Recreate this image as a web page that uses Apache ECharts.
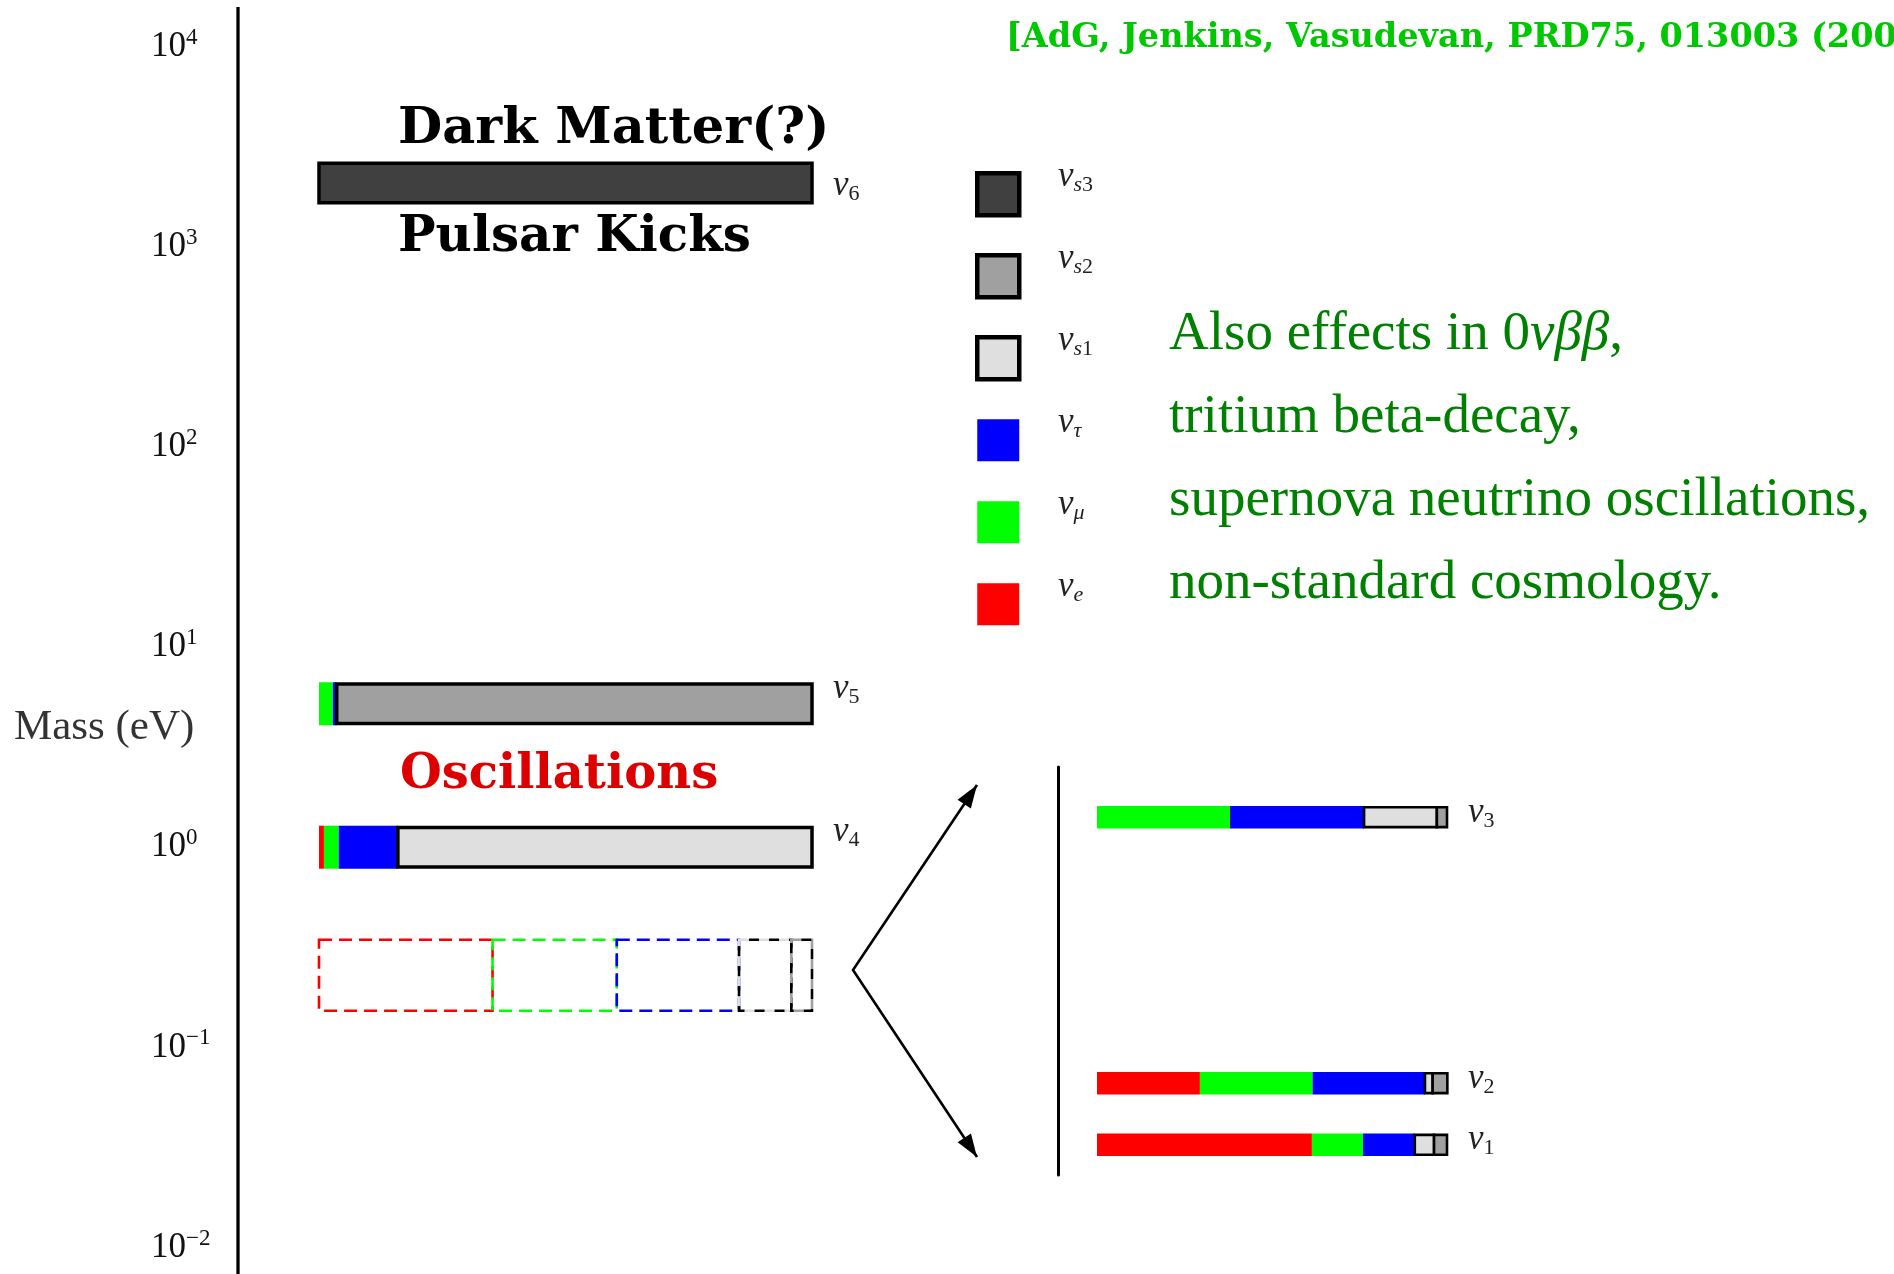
<!DOCTYPE html>
<html>
<head>
<meta charset="utf-8">
<title>Neutrino mass spectrum</title>
<script src="https://cdn.jsdelivr.net/npm/echarts@6/dist/echarts.min.js"></script>
<style>
  html, body { margin: 0; padding: 0; background: #fff; }
  #chart { width: 1894px; height: 1274px; }
</style>
</head>
<body>
<div id="chart"></div>
<script>
// flavour order used everywhere: e, mu, tau, s1, s2, s3
const flavourNames = ['νe', 'νμ', 'ντ', 'νs1', 'νs2', 'νs3'];
const flavourColors = ['#ff0000', '#00ff00', '#0000ff', '#dfdfdf', '#a0a0a0', '#404040'];
const legendOrder = ['νs3', 'νs2', 'νs1', 'ντ', 'νμ', 'νe'];

// heavy (mostly sterile) states, mass in eV
const heavyNames = ['6', '5', '4'];
const heavyMass = [2000, 5, 0.96];
const mixNu6 = [0, 0, 0, 0, 0, 1];
const mixNu5 = [0, 0.028, 0.008, 0, 0.964, 0];
const mixNu4 = [0.01, 0.03, 0.12, 0.84, 0, 0];

// the three light states lumped together (dashed box)
const lightBlockMass = 0.22;
const mixLight = [0.352, 0.252, 0.248, 0.106, 0.042, 0];

// light states in the zoomed panel (schematic level 0..1)
const lightNames = ['1', '2', '3'];
const lightLevel = [0.074, 0.225, 0.877];
const mixNu1 = [0.614, 0.146, 0.148, 0.055, 0.037, 0];
const mixNu2 = [0.294, 0.322, 0.321, 0.022, 0.042, 0];
const mixNu3 = [0, 0.38, 0.383, 0.208, 0.029, 0];

const massTicks = [0.01, 0.1, 1, 10, 100, 1000, 10000];

const SERIF = 'Liberation Serif';
const BOLD = 'DejaVu Serif';

// one stacked piece of a bar: [start, end, y, dashed]
function segments(mix, y, f, dashed) {
  let start = 0;
  for (let k = 0; k < f; k++) start += mix[k];
  return mix[f] > 0 ? [[start, start + mix[f], y, dashed ? 1 : 0]] : [];
}

function drawSegment(f, barH, sw) {
  const sterile = f >= 3;
  const color = flavourColors[f];
  return function (params, api) {
    const a = api.coord([api.value(0), api.value(2)]);
    const b = api.coord([api.value(1), api.value(2)]);
    if (api.value(3)) {
      const h = 71;
      const shape = {x: a[0], y: a[1] - h / 2, width: b[0] - a[0], height: h};
      if (!sterile) {
        return {type: 'rect', shape, style: {fill: 'transparent', stroke: color, lineWidth: 2.6, lineDash: [13, 7]}};
      }
      return {type: 'group', children: [
        {type: 'rect', shape, style: {fill: 'transparent', stroke: color, lineWidth: 2.6, lineDash: [10, 10]}},
        {type: 'rect', shape, style: {fill: 'transparent', stroke: '#000', lineWidth: 2.6, lineDash: [10, 10], lineDashOffset: 10}}
      ]};
    }
    if (sterile) {
      const h = barH - sw;
      return {type: 'rect', shape: {x: a[0], y: a[1] - h / 2, width: b[0] - a[0], height: h},
        style: {fill: color, stroke: '#000', lineWidth: sw}};
    }
    return {type: 'rect', shape: {x: a[0], y: a[1] - barH / 2, width: b[0] - a[0], height: barH},
      style: {fill: color}};
  };
}

// ν with a subscript: italic ν, subscript dropped below the baseline
const nuRich = {
  n: {fontFamily: SERIF, fontStyle: 'italic', fontSize: 35, lineHeight: 34, verticalAlign: 'top', fill: '#222'},
  s: {fontFamily: SERIF, fontStyle: 'italic', fontSize: 22, lineHeight: 21, padding: [15, 0, 0, 0], verticalAlign: 'top', fill: '#222'},
  d: {fontFamily: SERIF, fontSize: 22, lineHeight: 21, padding: [15, 0, 0, 0], verticalAlign: 'top', fill: '#222'}
};
function nuText(sub) {
  const letters = sub.replace(/[0-9]/g, '');
  const digits = sub.replace(/[^0-9]/g, '');
  return '{n|ν}' + (letters ? '{s|' + letters + '}' : '') + (digits ? '{d|' + digits + '}' : '');
}

// ν6 label sits lower against its bar than the others
const labelDrop = {'6': 18};

function drawLabel(names, barH) {
  return function (params, api) {
    const p = api.coord([api.value(0), api.value(1)]);
    const name = names[api.value(2)];
    return {
      type: 'text', x: p[0] + 21, y: p[1] - barH / 2 - 11 + (labelDrop[name] || 0),
      style: {text: nuText(name), rich: nuRich, align: 'left', verticalAlign: 'top'}
    };
  };
}

const series = [];
flavourNames.forEach((name, f) => {
  const left = [];
  [mixNu6, mixNu5, mixNu4].forEach((mix, i) => left.push(...segments(mix, heavyMass[i], f, false)));
  left.push(...segments(mixLight, lightBlockMass, f, true));
  series.push({name, type: 'custom', xAxisIndex: 0, yAxisIndex: 0, silent: true,
    encode: {x: [0, 1], y: 2}, renderItem: drawSegment(f, 43, 3.5), data: left});

  const right = [];
  [mixNu1, mixNu2, mixNu3].forEach((mix, i) => right.push(...segments(mix, lightLevel[i], f, false)));
  series.push({name, type: 'custom', xAxisIndex: 1, yAxisIndex: 1, silent: true,
    encode: {x: [0, 1], y: 2}, renderItem: drawSegment(f, 22.5, 2.6), data: right});
});
series.push({type: 'custom', name: 'heavy labels', xAxisIndex: 0, yAxisIndex: 0, silent: true,
  encode: {x: 0, y: 1}, renderItem: drawLabel(heavyNames, 43),
  data: heavyMass.map((m, i) => [1, m, i])});
series.push({type: 'custom', name: 'light labels', xAxisIndex: 1, yAxisIndex: 1, silent: true,
  encode: {x: 0, y: 1}, renderItem: drawLabel(lightNames, 22.5),
  data: lightLevel.map((v, i) => [1, v, i])});

// legend geometry (icons come from the legend, labels are placed next to them)
const LEG_LEFT = 975, LEG_TOP = 171, LEG_SIZE = 42, LEG_STEP = 82, LEG_BORDER = 4.5;

// arrows from the dashed box to the zoomed panel
const arrowRoot = [853, 970];
const arrowTips = [[977, 785], [977, 1157]];
function arrowHead(tip) {
  const dx = tip[0] - arrowRoot[0], dy = tip[1] - arrowRoot[1];
  const len = Math.sqrt(dx * dx + dy * dy);
  const ux = dx / len, uy = dy / len;
  const bx = tip[0] - 23 * ux, by = tip[1] - 23 * uy;
  return [tip, [bx - 8 * uy, by + 8 * ux], [bx + 8 * uy, by - 8 * ux]];
}

function plainText(text, x, y, size, color, family, weight) {
  return {type: 'text', x, y, style: {text, fill: color, fontSize: size, fontFamily: family,
    fontWeight: weight || 'normal', align: 'left', verticalAlign: 'middle'}};
}

const greenLines = ['tritium beta-decay,', 'supernova neutrino oscillations,', 'non-standard cosmology.'];

const chart = echarts.init(document.getElementById('chart'));
chart.setOption({
  backgroundColor: '#fff',
  animation: false,
  grid: [
    {left: 319, right: 1082, top: 43, bottom: 30},
    {left: 1097, right: 447, top: 767, bottom: 99}
  ],
  xAxis: [
    {type: 'value', gridIndex: 0, min: 0, max: 1, show: false},
    {type: 'value', gridIndex: 1, min: 0, max: 1, show: false}
  ],
  yAxis: [
    {
      type: 'log', gridIndex: 0, min: massTicks[0], max: massTicks[massTicks.length - 1],
      splitNumber: 6, offset: 81,
      axisLine: {show: false, onZero: false}, axisTick: {show: false}, splitLine: {show: false},
      axisLabel: {
        margin: 87, align: 'left',
        formatter: v => {
          const e = Math.round(Math.log10(v));
          return '{b|10}{s|' + (e < 0 ? '−' + (-e) : e) + '}';
        },
        rich: {
          b: {fontFamily: SERIF, fontSize: 35, lineHeight: 34, padding: [3, 0, 0, 0], verticalAlign: 'top', color: '#111'},
          s: {fontFamily: SERIF, fontSize: 23, lineHeight: 23, verticalAlign: 'top', color: '#111'}
        }
      }
    },
    {
      type: 'value', gridIndex: 1, min: 0, max: 1, offset: 39,
      axisLine: {show: true, onZero: false, lineStyle: {color: '#000', width: 3}},
      axisTick: {show: false}, splitLine: {show: false}, axisLabel: {show: false}
    }
  ],
  legend: {
    left: LEG_LEFT, top: LEG_TOP, padding: 0, orient: 'vertical',
    itemWidth: LEG_SIZE, itemHeight: LEG_SIZE, itemGap: LEG_STEP - LEG_SIZE - LEG_BORDER,
    selectedMode: false,
    // every icon gets the same stroke width so the rows stay evenly spaced;
    // only the sterile ones show it
    data: legendOrder.map(name => {
      const f = flavourNames.indexOf(name);
      return {name, icon: 'rect', itemStyle: {color: flavourColors[f],
        borderColor: f >= 3 ? '#000' : 'rgba(0,0,0,0)', borderWidth: LEG_BORDER}};
    }),
    formatter: () => ''
  },
  graphic: [
    {type: 'line', shape: {x1: 238, y1: 7, x2: 238, y2: 1274}, style: {stroke: '#000', lineWidth: 3.3}},
    {type: 'polyline', shape: {points: [arrowTips[0], arrowRoot, arrowTips[1]]}, style: {stroke: '#000', lineWidth: 2.6, fill: null}},
    {type: 'polygon', shape: {points: arrowHead(arrowTips[0])}, style: {fill: '#000'}},
    {type: 'polygon', shape: {points: arrowHead(arrowTips[1])}, style: {fill: '#000'}},
    ...legendOrder.map((name, i) => ({
      type: 'text', x: LEG_LEFT + 83, y: LEG_TOP + i * LEG_STEP - 12,
      style: {text: nuText(name.slice(1)), rich: nuRich, align: 'left', verticalAlign: 'top'}
    })),
    plainText('[AdG, Jenkins, Vasudevan, PRD75, 013003 (2007)]', 1006, 38, 33.5, '#00c800', BOLD, 'bold'),
    plainText('Dark Matter(?)', 398, 130, 51, '#000', BOLD, 'bold'),
    plainText('Pulsar Kicks', 398, 238, 50, '#000', BOLD, 'bold'),
    plainText('Oscillations', 400, 776, 48, '#dd0000', BOLD, 'bold'),
    plainText('Mass (eV)', 14, 728, 43, '#333', SERIF),
    {type: 'text', x: 1169, y: 335, style: {
      text: '{r|Also effects in 0}{i|νββ}{r|,}', align: 'left', verticalAlign: 'middle',
      rich: {
        r: {fontFamily: SERIF, fontSize: 55, fill: '#008000'},
        i: {fontFamily: SERIF, fontSize: 55, fontStyle: 'italic', fill: '#008000'}
      }
    }},
    ...greenLines.map((t, i) => plainText(t, 1169, 418 + i * 83, 55, '#008000', SERIF))
  ],
  series
});
</script>
</body>
</html>
